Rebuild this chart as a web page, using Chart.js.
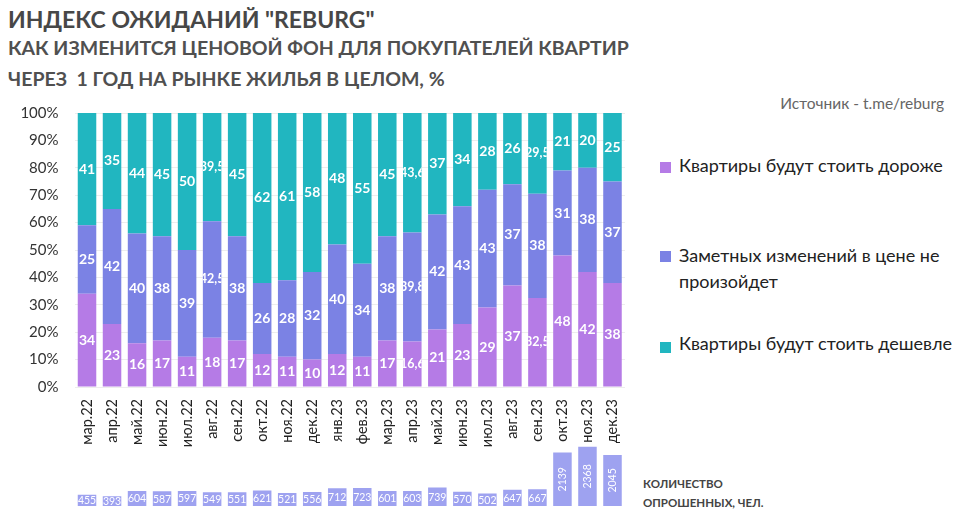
<!DOCTYPE html>
<html lang="ru">
<head>
<meta charset="utf-8">
<title>Индекс ожиданий REBURG</title>
<script src="https://cdn.jsdelivr.net/npm/chart.js@4.4.0/dist/chart.umd.min.js"></script>
<style>
  body { margin: 0; width: 974px; height: 519px; background: #fff; position: relative; overflow: hidden; font-family: Lato, "Open Sans", sans-serif; }
  .t { position: absolute; white-space: nowrap; }
  .title { left: 8px; top: 8px; font-size: 23px; line-height: 23px; font-weight: bold; color: #474747; }
  .sub { left: 8px; font-size: 19.5px; line-height: 19.5px; font-weight: bold; color: #505050; }
  .src { right: 30px; top: 96px; font-size: 15.5px; line-height: 15.5px; color: #666; }
  .leg { left: 679px; font-size: 18px; line-height: 26px; color: #222; }
  .sq { position: absolute; left: 660px; width: 11px; height: 11px; }
  .cnt { left: 643px; font-size: 11.5px; line-height: 18.5px; font-weight: bold; color: #444; top: 475px; }
  #c1 { position: absolute; left: 0; top: 88px; }
  #c2 { position: absolute; left: 0; top: 440px; }
</style>
</head>
<body>
<div class="t title">ИНДЕКС ОЖИДАНИЙ "REBURG"</div>
<div class="t sub" style="top:38px">КАК ИЗМЕНИТСЯ ЦЕНОВОЙ ФОН ДЛЯ ПОКУПАТЕЛЕЙ КВАРТИР</div>
<div class="t sub" style="top:69px">ЧЕРЕЗ&nbsp; 1 ГОД НА РЫНКЕ ЖИЛЬЯ В ЦЕЛОМ, %</div>
<div class="t src">Источник - t.me/reburg</div>

<div class="sq" style="top:162px;background:#b57be6"></div>
<div class="t leg" style="top:152px">Квартиры будут стоить дороже</div>
<div class="sq" style="top:251px;background:#7b82e4"></div>
<div class="t leg" style="top:242px">Заметных изменений в цене не<br>произойдет</div>
<div class="sq" style="top:342px;background:#21b6c0"></div>
<div class="t leg" style="top:330px">Квартиры будут стоить дешевле</div>

<div class="t cnt">КОЛИЧЕСТВО<br>ОПРОШЕННЫХ, ЧЕЛ.</div>

<canvas id="c1" width="640" height="362"></canvas>
<canvas id="c2" width="640" height="79"></canvas>

<script>
const months = ['мар.22','апр.22','май.22','июн.22','июл.22','авг.22','сен.22','окт.22','ноя.22','дек.22','янв.23','фев.23',
                'мар.23','апр.23','май.23','июн.23','июл.23','авг.23','сен.23','окт.23','ноя.23','дек.23'];
const dearer  = [34, 23, 16, 17, 11, 18,   17, 12, 11, 10, 12, 11, 17, 16.6, 21, 23, 29, 37, 32.5, 48, 42, 38];
const same    = [25, 42, 40, 38, 39, 42.5, 38, 26, 28, 32, 40, 34, 38, 39.8, 42, 43, 43, 37, 38,   31, 38, 37];
const cheaper = [41, 35, 44, 45, 50, 39.5, 45, 62, 61, 58, 48, 55, 45, 43.6, 37, 34, 28, 26, 29.5, 21, 20, 25];
const respondents = [455, 393, 604, 587, 597, 549, 551, 621, 521, 556, 712, 723, 601, 603, 739, 570, 502, 647, 667, 2139, 2368, 2045];

const fmt = v => String(v).replace('.', ',');

// white value labels centred in each bar segment
const segLabels = {
  id: 'segLabels',
  afterDatasetsDraw(chart, args, opts) {
    const ctx = chart.ctx;
    chart.data.datasets.forEach((ds, i) => {
      chart.getDatasetMeta(i).data.forEach((bar, j) => {
        const v = ds.data[j];
        const p = bar.getProps(['x', 'y', 'base', 'width'], true);
        const txt = fmt(v);
        const cy = (p.y + p.base) / 2;
        ctx.save();
        ctx.beginPath();
        ctx.rect(p.x - p.width / 2, Math.min(p.y, p.base), p.width, Math.abs(p.base - p.y));
        ctx.clip();
        ctx.fillStyle = '#fff';
        ctx.textAlign = 'center';
        ctx.textBaseline = 'middle';
        if (opts.small) {
          ctx.font = '10.5px Lato';
          if (v > 1500) {
            ctx.translate(p.x, cy);
            ctx.rotate(-Math.PI / 2);
            ctx.fillText(txt, 0, 0);
          } else {
            ctx.fillText(txt, p.x, cy + 0.5);
          }
        } else {
          ctx.font = txt.includes(',') ? 'bold 12.5px Lato' : 'bold 14px Lato';
          ctx.fillText(txt, p.x, cy);
        }
        ctx.restore();
      });
    });
  }
};

new Chart(document.getElementById('c1'), {
  type: 'bar',
  data: {
    labels: months,
    datasets: [
      { label: 'Квартиры будут стоить дороже', data: dearer, backgroundColor: '#b57be6' },
      { label: 'Заметных изменений в цене не произойдет', data: same, backgroundColor: '#7b82e4' },
      { label: 'Квартиры будут стоить дешевле', data: cheaper, backgroundColor: '#21b6c0' }
    ]
  },
  options: {
    responsive: false,
    animation: false,
    datasets: { bar: { barPercentage: 0.74, categoryPercentage: 1 } },
    layout: { padding: { top: 1, right: 15, left: 0, bottom: 0 } },
    plugins: { legend: { display: false }, tooltip: { enabled: false }, segLabels: {} },
    scales: {
      x: {
        stacked: true,
        grid: { display: false },
        border: { display: false },
        ticks: { color: '#222', font: { family: 'Lato', size: 14.5 }, minRotation: 90, maxRotation: 90, padding: 4, autoSkip: false },
        afterFit(s) { s.height = 63; }
      },
      y: {
        stacked: true,
        min: 0, max: 100,
        grid: { color: '#ededed', drawTicks: false },
        border: { display: false },
        ticks: { stepSize: 10, callback: v => v + '%', color: '#333', font: { family: 'Lato', size: 15 }, padding: 16 },
        afterFit(s) { s.width = 74.5; }
      }
    }
  },
  plugins: [segLabels]
});

new Chart(document.getElementById('c2'), {
  type: 'bar',
  data: {
    labels: months,
    datasets: [{ label: 'Количество опрошенных', data: respondents, backgroundColor: '#9ea2f0' }]
  },
  options: {
    responsive: false,
    animation: false,
    datasets: { bar: { barPercentage: 0.74, categoryPercentage: 1 } },
    layout: { padding: { top: 3.5, right: 15, left: 74.5, bottom: 13 } },
    plugins: { legend: { display: false }, tooltip: { enabled: false }, segLabels: { small: true } },
    scales: {
      x: { display: false },
      y: { display: false, min: 0, max: 2500 }
    }
  },
  plugins: [segLabels]
});
</script>
</body>
</html>
